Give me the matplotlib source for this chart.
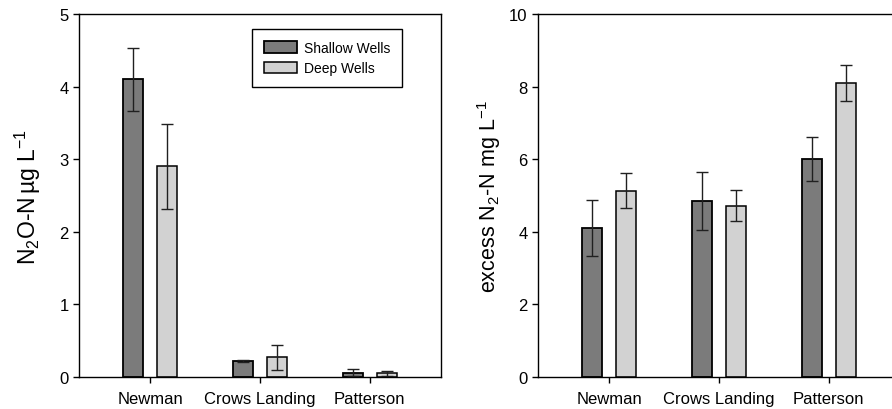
import numpy as np
import matplotlib
matplotlib.use('Agg')
import matplotlib.pyplot as plt

plt.rcParams['font.family'] = ['Liberation Sans', 'DejaVu Sans']
plt.rcParams['mathtext.fontset'] = 'custom'
plt.rcParams['mathtext.rm'] = 'Liberation Sans'
plt.rcParams['mathtext.it'] = 'Liberation Sans'

# data
sites = ['Newman', 'Crows Landing', 'Patterson']
n2o_shallow = [4.10, 0.22, 0.06]
n2o_shallow_err = [0.43, 0.02, 0.05]
n2o_deep = [2.90, 0.27, 0.05]
n2o_deep_err = [0.58, 0.17, 0.03]

n2_shallow = [4.10, 4.85, 6.00]
n2_shallow_err = [0.78, 0.80, 0.60]
n2_deep = [5.13, 4.72, 8.10]
n2_deep_err = [0.48, 0.43, 0.50]

dark = '#7b7b7b'
light = '#d2d2d2'
x = np.arange(len(sites))
off = 0.155
w = 0.18

fig = plt.figure(figsize=(8.92, 4.10), dpi=100)
ax1 = fig.add_axes([79/892, 32/410, 362/892, 363/410])
ax2 = fig.add_axes([538/892, 32/410, 362/892, 363/410])

ekw = dict(ecolor='#202020', elinewidth=1, capsize=4, capthick=1)
for ax, s, se, d, de in [(ax1, n2o_shallow, n2o_shallow_err, n2o_deep, n2o_deep_err),
                         (ax2, n2_shallow, n2_shallow_err, n2_deep, n2_deep_err)]:
    ax.bar(x - off, s, w, yerr=se, color=dark, edgecolor='black', linewidth=1.3,
           error_kw=ekw, label='Shallow Wells', zorder=2)
    ax.bar(x + off, d, w, yerr=de, color=light, edgecolor='black', linewidth=1.1,
           error_kw=ekw, label='Deep Wells', zorder=2)
    ax.set_xlim(-0.65, 2.65)
    ax.set_xticks(x)
    ax.set_xticklabels(sites)
    ax.tick_params(axis='both', direction='out', length=4, width=1, labelsize=12)
    ax.tick_params(axis='x', pad=6)
    for sp in ax.spines.values():
        sp.set_linewidth(1)

ax1.set_ylim(0, 5)
ax1.set_yticks(range(0, 6))
ax1.set_ylabel(r'N$_2$O-N$\,$µg L$^{-1}$', fontsize=16.5)
ax1.yaxis.set_label_coords(-0.10, 0.5)
ax1.legend(loc='upper left', bbox_to_anchor=(0.478, 0.959), fontsize=10,
           frameon=True, fancybox=False, edgecolor='black', framealpha=1,
           handlelength=2.4, handleheight=0.87, handletextpad=0.5,
           borderpad=0.85, labelspacing=0.45, borderaxespad=0)

ax2.set_ylim(0, 10)
ax2.set_yticks(range(0, 11, 2))
ax2.set_ylabel(r'excess N$_2$-N mg L$^{-1}$', fontsize=15.5)
ax2.yaxis.set_label_coords(-0.097, 0.5)

fig.savefig('out.png', dpi=100)
